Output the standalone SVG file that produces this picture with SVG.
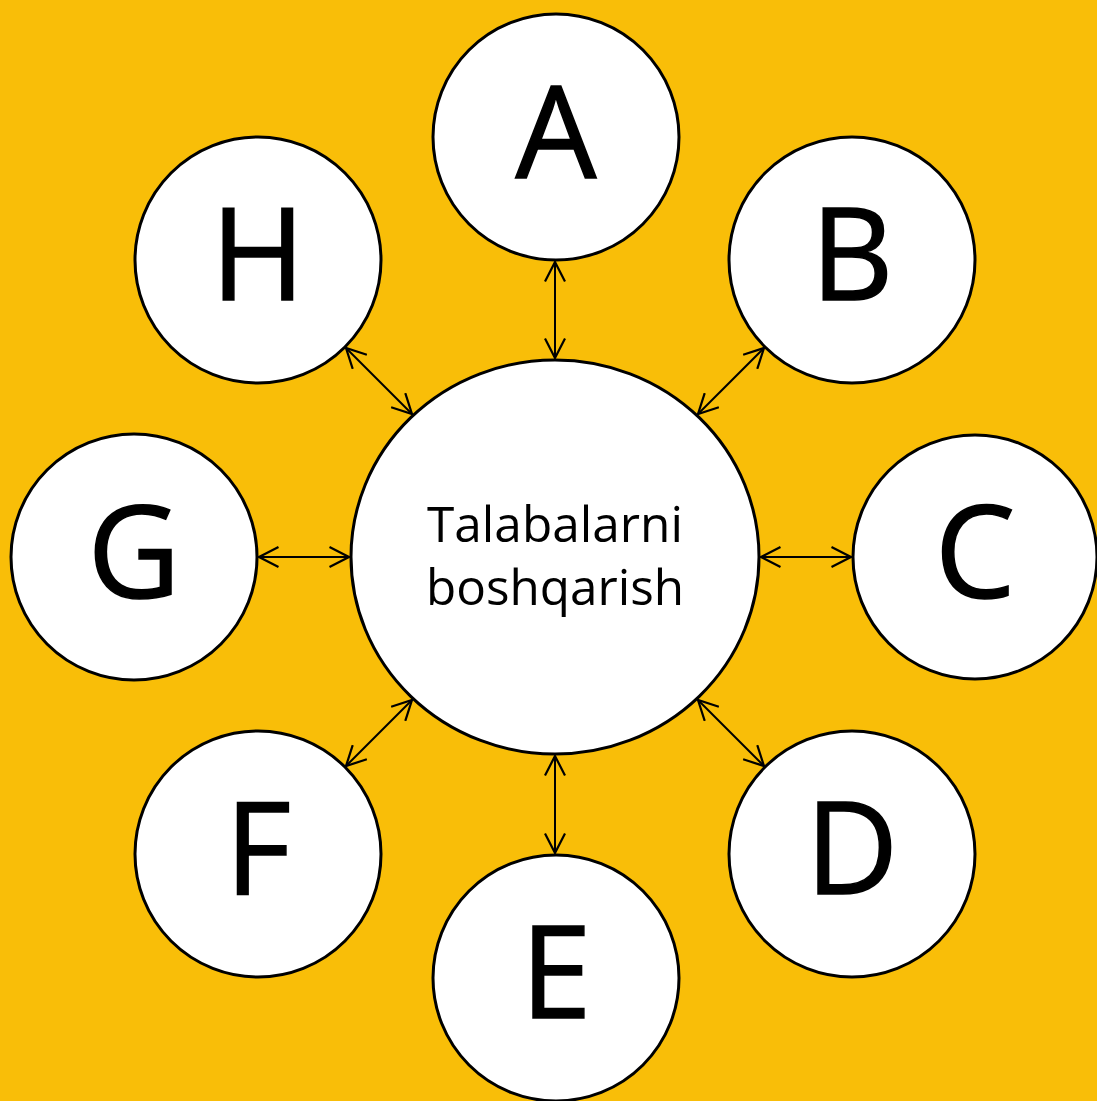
<svg xmlns="http://www.w3.org/2000/svg" width="1097" height="1101" viewBox="0 0 1097 1101">
<defs>
<style>
.node{fill:#FFFFFF;stroke:#000;stroke-width:3}
.lbl{font-family:"Open Sans","Noto Sans",sans-serif;font-size:128px;fill:#000;stroke:#000;stroke-width:1.5;text-anchor:middle}
.ctr{font-family:"Open Sans","Noto Sans",sans-serif;font-size:50px;fill:#000;text-anchor:middle}
.con{stroke:#000;stroke-width:2;fill:none;marker-start:url(#ah);marker-end:url(#ah)}
</style>
<marker id="ah" viewBox="0 0 22 22" refX="20.5" refY="11" markerWidth="22" markerHeight="22" markerUnits="userSpaceOnUse" orient="auto-start-reverse">
<path d="M1,1 L20.5,11 L1,21" fill="none" stroke="#000" stroke-width="2.2"/>
</marker>
</defs>
<rect width="1097" height="1101" fill="#F9BE08"/>
<g id="connectors">
<line class="con" x1="555" y1="262" x2="555" y2="358"/>
<line class="con" x1="764" y1="348" x2="698" y2="414"/>
<line class="con" x1="761" y1="557" x2="851" y2="557"/>
<line class="con" x1="698" y1="700" x2="764" y2="766"/>
<line class="con" x1="555" y1="756" x2="555" y2="853"/>
<line class="con" x1="412" y1="700" x2="346" y2="766"/>
<line class="con" x1="349" y1="557" x2="259" y2="557"/>
<line class="con" x1="412" y1="414" x2="346" y2="348"/>
</g>
<g id="center">
<ellipse class="node" cx="555" cy="557" rx="204" ry="197"/>
<text class="ctr" x="555" y="542" textLength="256" lengthAdjust="spacingAndGlyphs">Talabalarni</text>
<text class="ctr" x="555" y="605" textLength="258" lengthAdjust="spacingAndGlyphs">boshqarish</text>
</g>
<g id="nodeA"><circle class="node" cx="556" cy="137" r="123"/><text class="lbl" x="556" y="178">A</text></g>
<g id="nodeB"><circle class="node" cx="852" cy="260" r="123"/><text class="lbl" x="852" y="300">B</text></g>
<g id="nodeC"><circle class="node" cx="975" cy="557" r="122"/><text class="lbl" x="975" y="598">C</text></g>
<g id="nodeD"><circle class="node" cx="852" cy="854" r="123"/><text class="lbl" x="852" y="894">D</text></g>
<g id="nodeE"><circle class="node" cx="556" cy="978" r="123"/><text class="lbl" x="556" y="1018">E</text></g>
<g id="nodeF"><circle class="node" cx="258" cy="854" r="123"/><text class="lbl" x="258" y="894">F</text></g>
<g id="nodeG"><circle class="node" cx="134" cy="557" r="123"/><text class="lbl" x="134" y="598">G</text></g>
<g id="nodeH"><circle class="node" cx="258" cy="260" r="123"/><text class="lbl" x="258" y="300">H</text></g>
</svg>
